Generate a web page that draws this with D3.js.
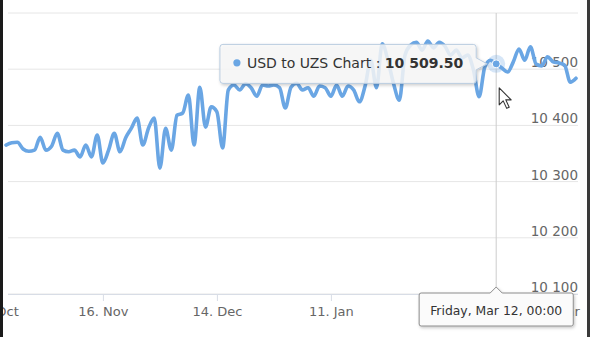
<!DOCTYPE html>
<html>
<head>
<meta charset="utf-8">
<script src="https://cdn.jsdelivr.net/npm/d3@7"></script>
<style>
  html, body { margin: 0; padding: 0; background: #fff; }
  svg { display: block; font-family: "DejaVu Sans", Verdana, sans-serif; }
</style>
</head>
<body>
<script>
// USD to UZS daily rate (trading days, ordinal positions)
const seriesName = "USD to UZS Chart";
const values = [
  10365, 10369, 10370, 10358, 10354, 10356, 10379, 10356, 10363, 10386,
  10356, 10353, 10356, 10344, 10365, 10344, 10383, 10333, 10356, 10386,
  10353, 10378, 10395, 10413, 10365, 10395, 10413, 10324, 10395, 10356,
  10418, 10422, 10454, 10365, 10468, 10397, 10433, 10424, 10360, 10463,
  10472, 10463, 10474, 10467, 10452, 10472, 10470, 10472, 10467, 10431,
  10468, 10475, 10463, 10467, 10452, 10470, 10467, 10452, 10472, 10452,
  10470, 10463, 10442, 10470, 10516, 10467, 10545, 10516, 10474, 10445,
  10525, 10543, 10548, 10534, 10550, 10538, 10548, 10541, 10525, 10534,
  10520, 10525, 10499, 10451, 10504, 10516, 10509.5, 10502, 10495, 10513,
  10536, 10516, 10540, 10509, 10506, 10522, 10513, 10511, 10507, 10477,
  10484
];

// x-axis ticks: position (trading-day index) and label
const tickIndex = [-2, 17, 37, 57, 77, 97];
const tickLabels = ["19. Oct", "16. Nov", "14. Dec", "11. Jan", "8. Feb", "8. Mar"];

// y-axis
const gridValues = [10100, 10200, 10300, 10400, 10500, 10600];
const yLabelValues = [10100, 10200, 10300, 10400, 10500];

// hovered point
const hoverIndex = 86;
const hoverDateLabel = "Friday, Mar 12, 00:00";

const W = 600, H = 337;
const plot = { left: 8, right: 578, top: 13, bottom: 294 };
const lineColor = "#6aa6e4";

const fmt = d3.formatLocale({ decimal: ".", thousands: "\u00a0", grouping: [3], currency: ["", ""] });
const fmtAxis = fmt.format(",d");
const fmtValue = fmt.format(",.2f");

const x = d3.scaleLinear().domain([0, values.length - 1]).range([6, 576]);
const y = d3.scaleLinear().domain([10100, 10600]).range([plot.bottom, plot.top]);

const svg = d3.select("body").append("svg").attr("width", W).attr("height", H);

const defs = svg.append("defs");
const shadow = defs.append("filter").attr("id", "shadow")
  .attr("x", "-10%").attr("y", "-20%").attr("width", "130%").attr("height", "160%");
shadow.append("feDropShadow").attr("dx", 1).attr("dy", 1.5)
  .attr("stdDeviation", 1.6).attr("flood-color", "#000").attr("flood-opacity", 0.22);

svg.append("rect").attr("width", W).attr("height", H).attr("fill", "#fff");

// horizontal grid
svg.append("g").selectAll("line").data(gridValues).join("line")
  .attr("x1", plot.left).attr("x2", plot.right)
  .attr("y1", d => y(d)).attr("y2", d => y(d))
  .attr("stroke", "#e6e6e6").attr("stroke-width", 1);

// y labels (right side, sitting above their grid line)
svg.append("g").selectAll("text").data(yLabelValues).join("text")
  .attr("x", plot.right).attr("y", d => y(d) - 2)
  .attr("text-anchor", "end")
  .attr("font-size", 13.5).attr("fill", "#666")
  .text(d => fmtAxis(d));

// x axis
const xAxis = d3.axisBottom(x)
  .tickValues(tickIndex)
  .tickFormat((d, i) => tickLabels[i])
  .tickSize(7).tickPadding(6);
const gx = svg.append("g").attr("transform", `translate(0,${plot.bottom})`).call(xAxis);
gx.select(".domain").remove();
gx.selectAll(".tick line").attr("stroke", "#d8dde6");
gx.selectAll(".tick text").attr("font-size", 13).attr("fill", "#666")
  .attr("font-family", "DejaVu Sans, Verdana, sans-serif");
svg.append("line").attr("x1", plot.left).attr("x2", plot.right)
  .attr("y1", plot.bottom + 0.5).attr("y2", plot.bottom + 0.5)
  .attr("stroke", "#d8dde6");

// crosshair
const hx = x(hoverIndex), hy = y(values[hoverIndex]);
svg.append("line").attr("x1", hx).attr("x2", hx)
  .attr("y1", plot.top).attr("y2", plot.bottom)
  .attr("stroke", "#cccccc").attr("stroke-width", 1);

// rate line
const line = d3.line().x((d, i) => x(i)).y(d => y(d)).curve(d3.curveMonotoneX);
svg.append("path").datum(values)
  .attr("d", line)
  .attr("fill", "none").attr("stroke", lineColor)
  .attr("stroke-width", 3.6).attr("stroke-linejoin", "round").attr("stroke-linecap", "round");

// hover marker with halo
svg.append("circle").attr("cx", hx).attr("cy", hy).attr("r", 9)
  .attr("fill", lineColor).attr("fill-opacity", 0.28);
svg.append("circle").attr("cx", hx).attr("cy", hy).attr("r", 4)
  .attr("fill", lineColor).attr("stroke", "#fff").attr("stroke-width", 1);

// series tooltip (left of the point, with a pointer to it)
const tip = svg.append("g");
const tipBox = tip.append("path");
const tipText = tip.append("text").attr("font-size", 14).attr("fill", "#333");
tipText.append("tspan").text(seriesName + " : ");
tipText.append("tspan").attr("font-weight", "bold").text(fmtValue(values[hoverIndex]));
const textLen = tipText.node().getComputedTextLength();
const padL = 27, padR = 13;
const boxRight = hx - 20;
const boxW = padL + textLen + padR;
const boxLeft = boxRight - boxW;
const boxTop = hy - 19.5, boxH = 39, r = 3;
tipText.attr("x", boxLeft + padL).attr("y", boxTop + 23.5);
tip.append("circle").attr("cx", boxLeft + 17).attr("cy", boxTop + 18.5).attr("r", 3.6).attr("fill", lineColor);
const pY = hy;
tipBox.attr("d", [
  `M${boxLeft + r},${boxTop}`,
  `H${boxRight - r}`, `Q${boxRight},${boxTop} ${boxRight},${boxTop + r}`,
  `V${pY - 6}`, `L${hx - 9},${pY}`, `L${boxRight},${pY + 6}`,
  `V${boxTop + boxH - r}`, `Q${boxRight},${boxTop + boxH} ${boxRight - r},${boxTop + boxH}`,
  `H${boxLeft + r}`, `Q${boxLeft},${boxTop + boxH} ${boxLeft},${boxTop + boxH - r}`,
  `V${boxTop + r}`, `Q${boxLeft},${boxTop} ${boxLeft + r},${boxTop}`, "Z"
].join(" "))
  .attr("fill", "rgba(249,249,249,0.82)")
  .attr("stroke", "#b9cce0").attr("stroke-width", 1)
  .attr("filter", "url(#shadow)");

// date label on the x axis
const dt = svg.append("g");
const dtBox = dt.append("path");
const dtText = dt.append("text").attr("font-size", 12.4).attr("fill", "#333")
  .attr("text-anchor", "middle").text(hoverDateLabel);
const dtLen = dtText.node().getComputedTextLength();
const dW = dtLen + 22, dTop = plot.bottom - 1, dH = 33;
const dL = hx - dW / 2, dR = hx + dW / 2;
dtText.attr("x", hx).attr("y", dTop + 21.5);
dtBox.attr("d", [
  `M${dL + 2},${dTop}`, `H${hx - 6}`, `L${hx},${dTop - 6}`, `L${hx + 6},${dTop}`,
  `H${dR - 2}`, `Q${dR},${dTop} ${dR},${dTop + 2}`,
  `V${dTop + dH - 2}`, `Q${dR},${dTop + dH} ${dR - 2},${dTop + dH}`,
  `H${dL + 2}`, `Q${dL},${dTop + dH} ${dL},${dTop + dH - 2}`,
  `V${dTop + 2}`, `Q${dL},${dTop} ${dL + 2},${dTop}`, "Z"
].join(" "))
  .attr("fill", "#fbfbfb").attr("stroke", "#8c8c8c").attr("stroke-width", 1)
  .attr("filter", "url(#shadow)");

// mouse pointer
svg.append("path")
  .attr("transform", `translate(${hx + 3},${hy + 24})`)
  .attr("d", "M0,0 L0,17 L4,13 L7.5,20.5 L10,19.4 L6.6,12 L12,12 Z")
  .attr("fill", "#fff").attr("stroke", "#333").attr("stroke-width", 1.1)
  .attr("stroke-linejoin", "round");

// window frame edges
svg.append("rect").attr("x", 0).attr("y", 0).attr("width", 3).attr("height", H).attr("fill", "#1a1a1a");
svg.append("rect").attr("x", 587).attr("y", 0).attr("width", 3).attr("height", H).attr("fill", "#3a3a3a");
</script>
</body>
</html>
